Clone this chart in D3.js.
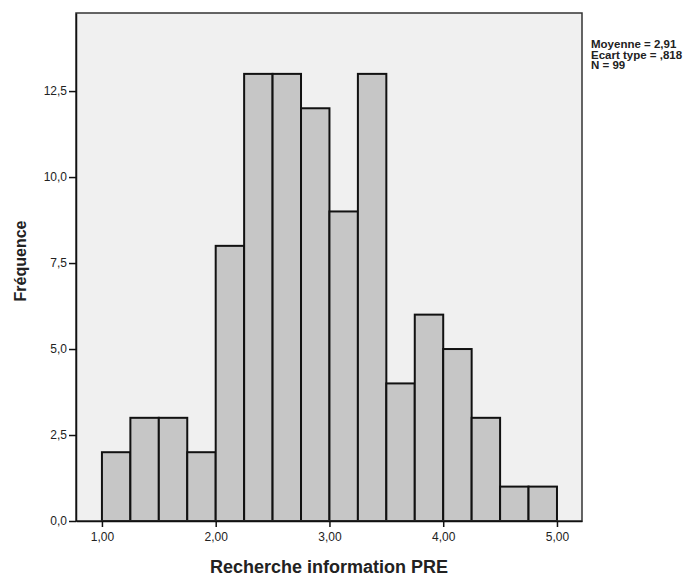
<!DOCTYPE html>
<html lang="fr">
<head>
<meta charset="UTF-8">
<title>Recherche information PRE</title>
<script src="https://cdn.jsdelivr.net/npm/d3@7/dist/d3.min.js"></script>
<style>
  body { margin: 0; background: #fff; }
  svg { font-family: "Liberation Sans", Arial, sans-serif; }
</style>
</head>
<body>
<svg class="hist"></svg>
<script>
  // bornes inférieures des classes (largeur 0,25)
  const binStarts = [1.00, 1.25, 1.50, 1.75, 2.00, 2.25, 2.50, 2.75, 3.00, 3.25, 3.50, 3.75, 4.00, 4.25, 4.50, 4.75];
  const counts    = [2, 3, 3, 2, 8, 13, 13, 12, 9, 13, 4, 6, 5, 3, 1, 1];
  const binWidth = 0.25;

  const xTicks = [1, 2, 3, 4, 5];
  const xTickLabels = ['1,00', '2,00', '3,00', '4,00', '5,00'];
  const yTicks = [0, 2.5, 5, 7.5, 10, 12.5];
  const yTickLabels = ['0,0', '2,5', '5,0', '7,5', '10,0', '12,5'];

  const statLines = ['Moyenne = 2,91', 'Ecart type = ,818', 'N = 99'];

  const width = 697, height = 579;
  const plot = { left: 76, top: 13, right: 582, bottom: 521 };

  const svg = d3.select('.hist')
      .attr('width', width)
      .attr('height', height);

  const x = d3.scaleLinear().domain([0.772, 5.22]).range([plot.left, plot.right]);
  const y = d3.scaleLinear().domain([0, 14.77]).range([plot.bottom, plot.top]);

  // fond de la zone graphique
  svg.append('rect')
      .attr('x', plot.left)
      .attr('y', plot.top)
      .attr('width', plot.right - plot.left)
      .attr('height', plot.bottom - plot.top)
      .attr('fill', '#f0f0f0');

  // barres
  svg.append('g')
    .selectAll('rect')
    .data(binStarts)
    .join('rect')
      .attr('x', d => x(d))
      .attr('y', (d, i) => y(counts[i]))
      .attr('width', d => x(d + binWidth) - x(d))
      .attr('height', (d, i) => y(0) - y(counts[i]))
      .attr('fill', '#c6c6c6')
      .attr('stroke', '#111')
      .attr('stroke-width', 2);

  // cadre
  svg.append('rect')
      .attr('x', plot.left)
      .attr('y', plot.top)
      .attr('width', plot.right - plot.left)
      .attr('height', plot.bottom - plot.top)
      .attr('fill', 'none')
      .attr('stroke', '#333')
      .attr('stroke-width', 1.5);

  // axe Y
  const yAxis = d3.axisLeft(y)
      .tickValues(yTicks)
      .tickFormat((d, i) => yTickLabels[i])
      .tickSize(7)
      .tickSizeOuter(0)
      .tickPadding(2);
  svg.append('g')
      .attr('transform', `translate(${plot.left},0)`)
      .call(yAxis)
      .call(g => g.select('.domain').attr('stroke', '#111').attr('stroke-width', 1.5))
      .call(g => g.selectAll('.tick line').attr('stroke', '#111').attr('stroke-width', 1.5))
      .call(g => g.selectAll('.tick text').attr('fill', '#222').style('font-size', '12px'));

  // axe X
  const xAxis = d3.axisBottom(x)
      .tickValues(xTicks)
      .tickFormat((d, i) => xTickLabels[i])
      .tickSize(6)
      .tickSizeOuter(0)
      .tickPadding(5);
  svg.append('g')
      .attr('transform', `translate(0,${plot.bottom})`)
      .call(xAxis)
      .call(g => g.select('.domain').attr('stroke', '#111').attr('stroke-width', 1.5))
      .call(g => g.selectAll('.tick line').attr('stroke', '#111').attr('stroke-width', 1.5))
      .call(g => g.selectAll('.tick text').attr('fill', '#222').style('font-size', '12px'));

  // titres des axes
  svg.append('text')
      .attr('x', (plot.left + plot.right) / 2)
      .attr('y', 573)
      .attr('text-anchor', 'middle')
      .style('font-size', '18px')
      .style('font-weight', 'bold')
      .attr('fill', '#222')
      .text('Recherche information PRE');

  svg.append('text')
      .attr('transform', `translate(26,261) rotate(-90)`)
      .attr('text-anchor', 'middle')
      .style('font-size', '16px')
      .style('font-weight', 'bold')
      .attr('fill', '#222')
      .text('Fréquence');

  // statistiques
  svg.append('g')
    .selectAll('text')
    .data(statLines)
    .join('text')
      .attr('x', 591)
      .attr('y', (d, i) => 48 + i * 10.5)
      .style('font-size', '11.5px')
      .style('font-weight', 'bold')
      .attr('fill', '#222')
      .text(d => d);
</script>
</body>
</html>
